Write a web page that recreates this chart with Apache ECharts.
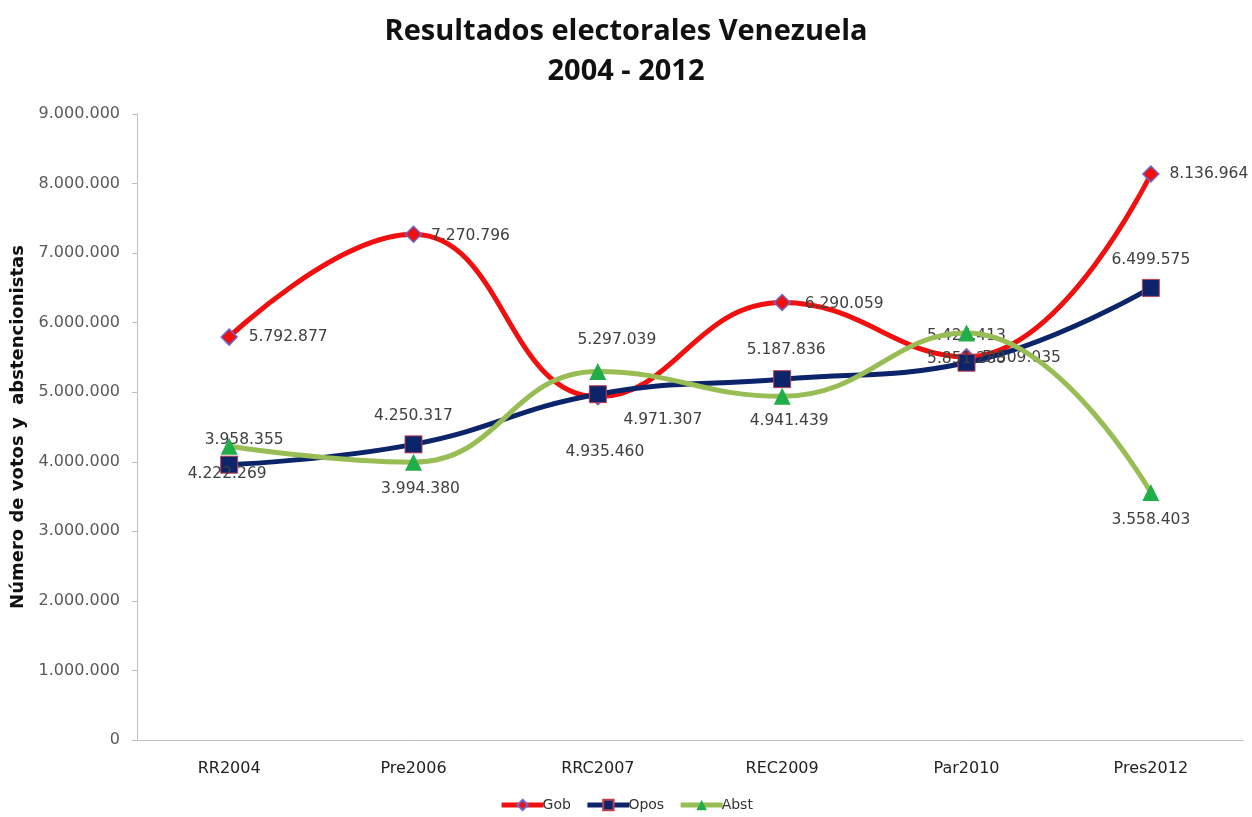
<!DOCTYPE html>
<html><head><meta charset="utf-8">
<script src="https://cdn.jsdelivr.net/npm/echarts@6/dist/echarts.min.js"></script>
<style>html,body{margin:0;padding:0;background:#fff}#c{width:1252px;height:817px}</style>
</head><body><div id="c"></div>
<script>
const categories = ['RR2004','Pre2006','RRC2007','REC2009','Par2010','Pres2012'];
const gob  = [5792877, 7270796, 4935460, 6290059, 5509035, 8136964];
const opos = [3958355, 4250317, 4971307, 5187836, 5424413, 6499575];
const abst = [4222269, 3994380, 5297039, 4941439, 5851288, 3558403];
const yTicks = {min: 0, max: 9000000, interval: 1000000};

// label placement offsets (style only)
const gobOff  = [[59,0],[57,2],[7,55],[62,1],[55,1],[58,0]];
const oposOff = [[15,-25],[0,-28],[65,26],[4,-29],[0,-27],[0,-28]];
const abstOff = [[-2,28],[7,27],[19,-32],[7,25],[0,26],[0,27]];

function fmt(v){ return String(v).replace(/\B(?=(\d{3})+(?!\d))/g,'.'); }
function items(vals, offs){
  return vals.map((v,i)=>({value:v, label:{show:true, position:'inside', offset:offs[i]}}));
}
const FF = 'DejaVu Sans';
const lbl = {show:true, formatter:p=>fmt(p.value), color:'#404040', fontSize:15.5, fontFamily:FF};

const chart = echarts.init(document.getElementById('c'));
chart.setOption({
  animation:false,
  title:{text:'Resultados electorales Venezuela\n2004 - 2012', left:'center', top:7,
    textStyle:{fontFamily:'Open Sans', fontWeight:'bold', fontSize:29, color:'#111', lineHeight:40}},
  grid:{left:137, right:9, top:114, bottom:77, containLabel:false, outerBoundsMode:'none'},
  legend:{bottom:0, left:'center', itemWidth:42, itemHeight:13, itemGap:14,
    lineStyle:{width:5},
    textStyle:{fontFamily:FF, fontSize:14, color:'#333', padding:[0,0,0,-6]},
    data:['Gob','Opos','Abst']},
  xAxis:{type:'category', data:categories, boundaryGap:true,
    axisLine:{lineStyle:{color:'#bfbfbf', width:1}}, axisTick:{show:false},
    axisLabel:{color:'#222', fontSize:16, fontFamily:FF, margin:21}},
  yAxis:{type:'value', min:yTicks.min, max:yTicks.max, interval:yTicks.interval,
    name:'Número de votos y  abstencionistas', nameLocation:'middle', nameGap:110, nameRotate:90,
    nameTextStyle:{fontFamily:FF, fontWeight:'bold', fontSize:18, color:'#111'},
    axisLine:{show:true, lineStyle:{color:'#bfbfbf'}}, axisTick:{show:true, length:5, lineStyle:{color:'#bfbfbf'}},
    splitLine:{show:false},
    axisLabel:{formatter:v=>fmt(v), color:'#5a5a5a', fontSize:16, fontFamily:FF, margin:17}},
  series:[
    {name:'Gob', type:'line', smooth:0.45, data:items(gob,gobOff), symbol:'diamond', symbolSize:16,
      lineStyle:{color:'#f01010', width:5}, itemStyle:{color:'#f01010', borderColor:'#6a6ad0', borderWidth:1.5},
      label:lbl, z:2},
    {name:'Opos', type:'line', smooth:0.45, data:items(opos,oposOff), symbol:'rect', symbolSize:17,
      lineStyle:{color:'#0c246a', width:5}, itemStyle:{color:'#0c246a', borderColor:'#c04050', borderWidth:1},
      label:lbl, z:3},
    {name:'Abst', type:'line', smooth:0.45, data:items(abst,abstOff), symbol:'triangle', symbolSize:17,
      lineStyle:{color:'#98bd55', width:5}, itemStyle:{color:'#1fae4a'},
      label:lbl, z:4}
  ]
});
</script></body></html>
